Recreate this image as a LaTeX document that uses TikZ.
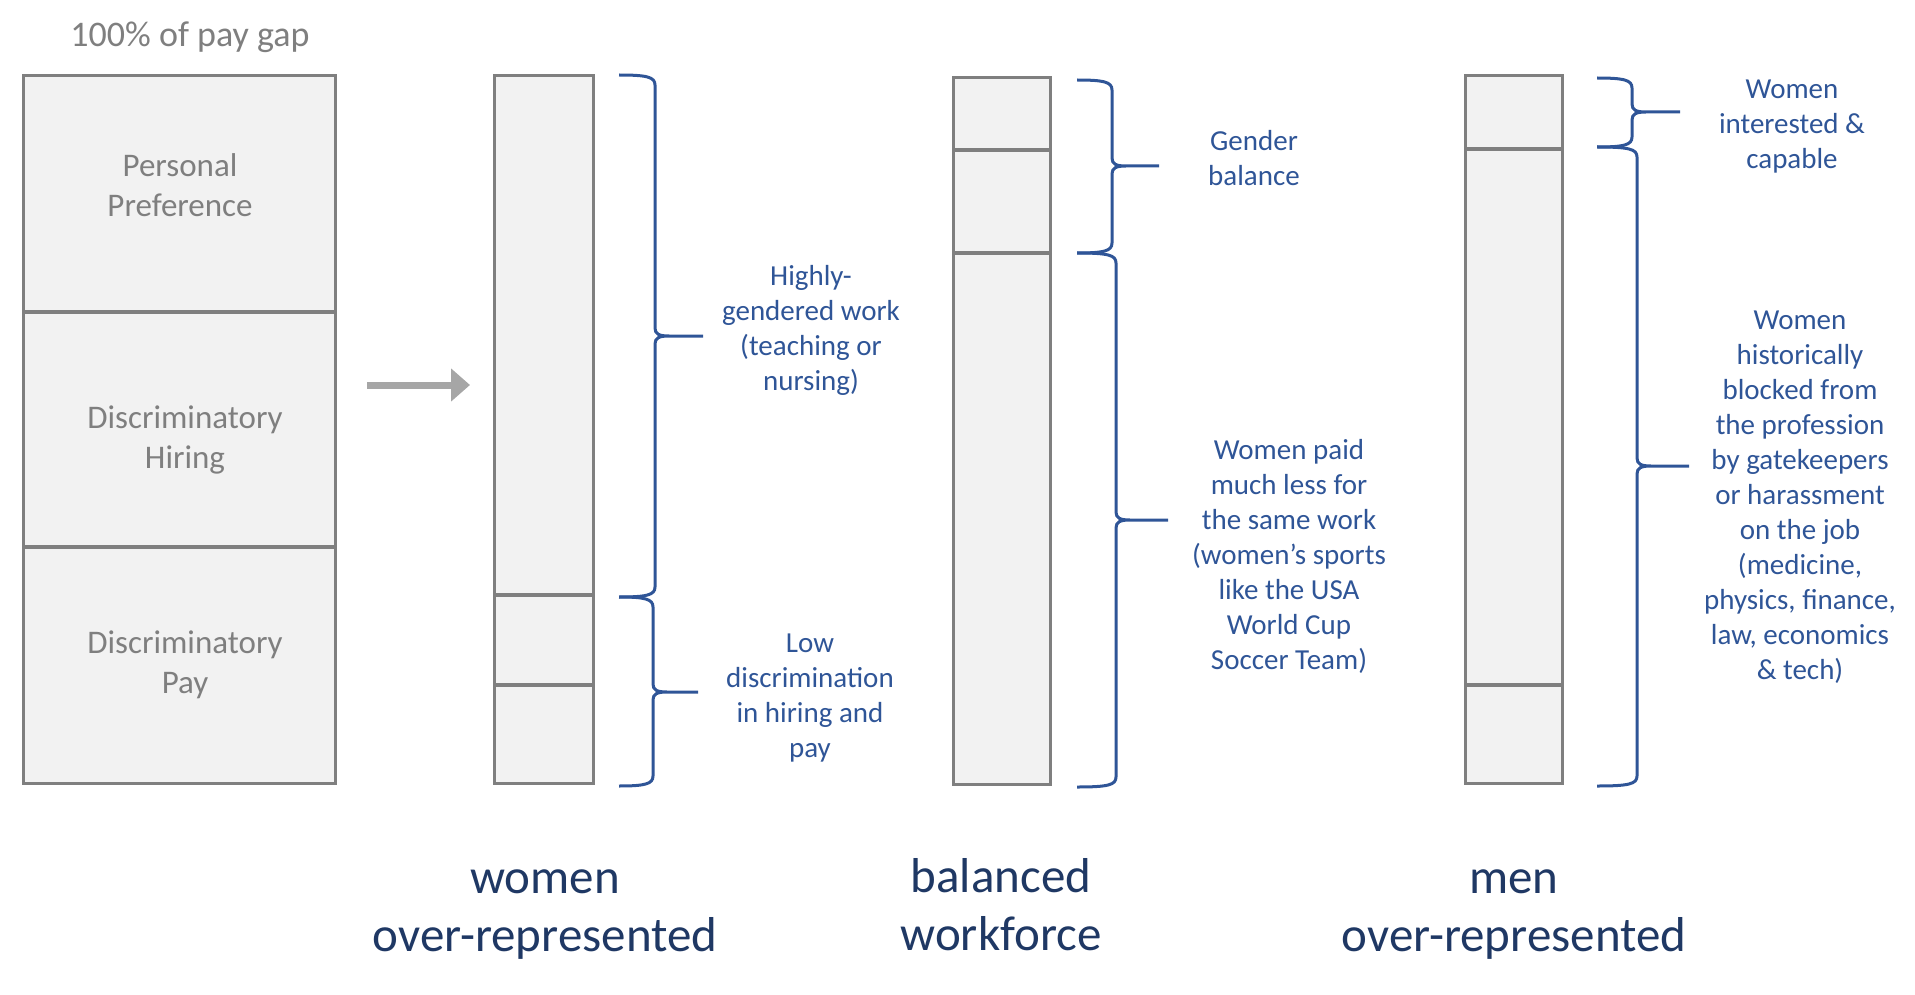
\documentclass[tikz,border=0pt]{standalone}
\usepackage{fontspec}
\setmainfont{Carlito}
\usetikzlibrary{arrows.meta}
\definecolor{boxgray}{HTML}{7F7F7F}
\definecolor{boxfill}{HTML}{F2F2F2}
\definecolor{arrgray}{HTML}{A6A6A6}
\definecolor{braceblue}{HTML}{2F5597}
\definecolor{labelnavy}{HTML}{1F3864}
\newcommand{\mybrace}[6]{%
  \draw[bracestyle] (#1,#4) .. controls ({#2-8},#4) and (#2,{#4+2}) .. (#2,{#4+10})
    -- (#2,{#5-8}) .. controls (#2,{#5-2}) and ({#2+4},#5) .. ({#2+14},#5) -- (#3,#5)
    ({#2+14},#5) .. controls ({#2+4},#5) and (#2,{#5+2}) .. (#2,{#5+8})
    -- (#2,{#6-10}) .. controls (#2,{#6-2}) and ({#2-8},#6) .. (#1,#6);}
\begin{document}
\begin{tikzpicture}[x=1pt,y=-1pt,
  seg/.style={draw=boxgray,fill=boxfill,line width=3.5pt},
  bracestyle/.style={draw=braceblue,line width=3pt},
  graytext/.style={inner sep=0pt,align=center,text=boxgray,font=\fontsize{33}{40}\selectfont},
  bluetext/.style={inner sep=0pt,align=center,text=braceblue,font=\fontsize{29}{35}\selectfont},
  bottomtext/.style={inner sep=0pt,align=center,text=labelnavy,font=\fontsize{49}{58}\selectfont},
  flowarrow/.style={draw=arrgray,line width=7pt,-{Triangle[length=19pt,width=32pt]}}]
\useasboundingbox (0,0) rectangle (1915,995);
% left stacked box
\draw[seg] (23.5,75.5) rectangle (335.5,312);
\draw[seg] (23.5,312) rectangle (335.5,547);
\draw[seg] (23.5,547) rectangle (335.5,783.5);
\node[graytext,font=\fontsize{36}{43}\selectfont,anchor=base] (title) at (190,47) {100\% of pay gap};
\node[graytext] (pp) at (180,185) {Personal\\Preference};
\node[graytext] (dh) at (185,440) {Discriminatory\\Hiring};
\node[graytext] (dp) at (185,665) {Discriminatory\\Pay};
% arrow
\coordinate (arrS) at (367,385);
\coordinate (arrE) at (470,385);
\draw[flowarrow] (arrS) -- (arrE);
% women bar
\draw[seg] (494.5,75.5) rectangle (593.5,595);
\draw[seg] (494.5,595) rectangle (593.5,685);
\draw[seg] (494.5,685) rectangle (593.5,783.5);
\mybrace{619}{655}{703}{75}{336}{597}
\mybrace{619}{653}{698}{597}{692}{786}
\node[bluetext] (hg) at (811,330) {Highly-\\gendered work\\(teaching or\\nursing)};
\node[bluetext] (ld) at (810,698) {Low\\discrimination\\in hiring and\\pay};
% balanced bar
\draw[seg] (953.5,77.5) rectangle (1050.5,150);
\draw[seg] (953.5,150) rectangle (1050.5,253);
\draw[seg] (953.5,253) rectangle (1050.5,784.5);
\mybrace{1077}{1112}{1159}{80}{166}{253}
\mybrace{1077}{1116}{1168}{253}{520}{787}
\node[bluetext] (gb) at (1254,158) {Gender\\balance};
\node[bluetext] (wp) at (1289,556) {Women paid\\much less for\\the same work\\(women’s sports\\like the USA\\World Cup\\Soccer Team)};
% men bar
\draw[seg] (1465.5,75.5) rectangle (1562.5,149);
\draw[seg] (1465.5,149) rectangle (1562.5,685);
\draw[seg] (1465.5,685) rectangle (1562.5,783.5);
\mybrace{1597}{1632}{1680}{78}{112}{147}
\mybrace{1597}{1637}{1689}{147}{466}{786}
\node[bluetext] (wi) at (1792,127) {Women\\interested \&\\capable};
\node[bluetext] (wh) at (1800,497) {Women\\historically\\blocked from\\the profession\\by gatekeepers\\or harassment\\on the job\\(medicine,\\physics, finance,\\law, economics\\\& tech)};
% bottom labels
\node[bottomtext] (lw) at (545,915) {women\\over-represented};
\node[bottomtext] (lb) at (1001,905) {balanced\\workforce};
\node[bottomtext] (lm) at (1514,915) {men\\over-represented};
\end{tikzpicture}
\end{document}
